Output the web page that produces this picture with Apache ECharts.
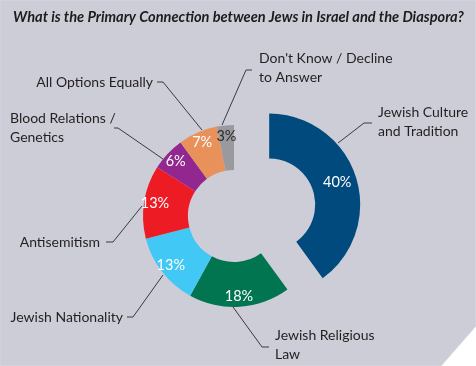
<!DOCTYPE html>
<html>
<head>
<meta charset="utf-8">
<script src="https://cdn.jsdelivr.net/npm/echarts@6/dist/echarts.min.js"></script>
<style>
html,body{margin:0;padding:0;background:#ffffff;}
#chart{width:476px;height:366px;}
</style>
</head>
<body>
<div id="chart"></div>
<script>
// ---- data ----
const titleText = 'What is the Primary Connection between Jews in Israel and the Diaspora?';
const categories = [
  'Jewish Culture\nand Tradition',
  'Jewish Religious\nLaw',
  'Jewish Nationality',
  'Antisemitism',
  'Blood Relations /\nGenetics',
  'All Options Equally',
  "Don't Know / Decline\nto Answer"
];
const values = [40, 18, 13, 13, 6, 7, 3];
const colors = ['#004a7d', '#00754f', '#42c8f4', '#ed1c24', '#92278f', '#e8915a', '#9a9a9e'];
const pctColors = ['#ffffff', '#ffffff', '#ffffff', '#ffffff', '#ffffff', '#ffffff', '#2a2a2a'];

// ---- layout (label placement) ----
const CENTER = [234, 216];
const EXPLODE = 37; // the first slice is pulled out along its mid angle
const outsideLabels = [
  {x: 378, y: 122, align: 'left',  pts: [[338,143],[364,123],[372,123]]},
  {x: 275, y: 345, align: 'left',  pts: [[233,307],[262,347],[269,347]]},
  {x: 123, y: 317, align: 'right', pts: [[163,275],[133,317],[127,317]]},
  {x: 100, y: 242, align: 'right', pts: [[142,206],[113,242],[106,242]]},
  {x: 10,  y: 128, align: 'left',  pts: [[163,159],[118,128],[114,128]]},
  {x: 153, y: 82,  align: 'right', pts: [[202,130],[163,82],[157,82]]},
  {x: 259, y: 68,  align: 'left',  pts: [[222,125],[246,70],[252,70]]}
];

const total = values.reduce((a, b) => a + b, 0);
const sweep0 = (values[0] / total) * 360;          // degrees of the first slice
const midAngle0 = (sweep0 / 2) * Math.PI / 180;     // from top, clockwise
const exDX = EXPLODE * Math.sin(midAngle0);
const exDY = -EXPLODE * Math.cos(midAngle0);
const CENTER_EX = [CENTER[0] + exDX, CENTER[1] + exDY];

const FONT = 'Lato, "Open Sans", sans-serif';
const TRANSPARENT = 'rgba(0,0,0,0)';
const chart = echarts.init(document.getElementById('chart'));

// ring of all slices; the first one is left invisible here (drawn pulled out below)
const ringData = categories.map((c, i) => ({
  name: c, value: values[i],
  itemStyle: {color: i === 0 ? TRANSPARENT : colors[i]}
}));
// pulled-out slice alone, spanning only its own angle, around the shifted centre
const exData = [{name: categories[0], value: values[0], itemStyle: {color: colors[0]}}];
const exPctData = [{name: categories[0], value: values[0], label: {color: pctColors[0]}}];
const pctData = categories.map((c, i) => ({
  name: c, value: values[i], label: {show: i !== 0, color: pctColors[i]}
}));

const pctLabel = {
  show: true, position: 'inside', formatter: '{c}%',
  fontFamily: FONT, fontSize: 14.5
};

chart.setOption({
  animation: false,
  backgroundColor: 'transparent',
  title: {
    text: titleText, left: 8, top: 5,
    textStyle: {fontFamily: FONT, fontSize: 14.6, fontWeight: 'bold', fontStyle: 'italic', color: '#1c1c1c'}
  },
  graphic: [{
    type: 'polygon', z: -10, silent: true,
    shape: {points: [[0,0],[476,0],[476,326],[441,366],[0,366]]},
    style: {fill: '#cdcdd8', stroke: '#d8d8e0', lineWidth: 1}
  }],
  series: [
    {
      type: 'pie', center: CENTER_EX, radius: [46, 91],
      startAngle: 90, endAngle: 90 - sweep0,
      clockwise: true, silent: true,
      data: exData,
      label: {show: false}, labelLine: {show: false}
    },
    {
      type: 'pie', center: CENTER, radius: [46, 91], startAngle: 90,
      clockwise: true, avoidLabelOverlap: false, silent: true, z: 3,
      data: ringData,
      label: {
        show: true, position: 'outside', formatter: '{b}',
        fontFamily: FONT, fontSize: 14, color: '#231f20', lineHeight: 19
      },
      labelLine: {show: true, lineStyle: {color: '#3a3a3a', width: 1}},
      labelLayout: function (p) {
        const L = outsideLabels[p.dataIndex];
        return {x: L.x, y: L.y, align: L.align, verticalAlign: 'middle', labelLinePoints: L.pts};
      }
    },
    {
      // percentage labels of the ring slices
      type: 'pie', center: CENTER, radius: [62, 92], startAngle: 90,
      clockwise: true, silent: true, z: 5,
      data: pctData,
      itemStyle: {color: TRANSPARENT},
      label: pctLabel,
      labelLine: {show: false}
    },
    {
      // percentage label of the pulled-out slice
      type: 'pie', center: CENTER_EX, radius: [46, 91],
      startAngle: 90, endAngle: 90 - sweep0,
      clockwise: true, silent: true, z: 5,
      data: exPctData,
      itemStyle: {color: TRANSPARENT},
      label: pctLabel,
      labelLine: {show: false}
    }
  ]
});
</script>
</body>
</html>
